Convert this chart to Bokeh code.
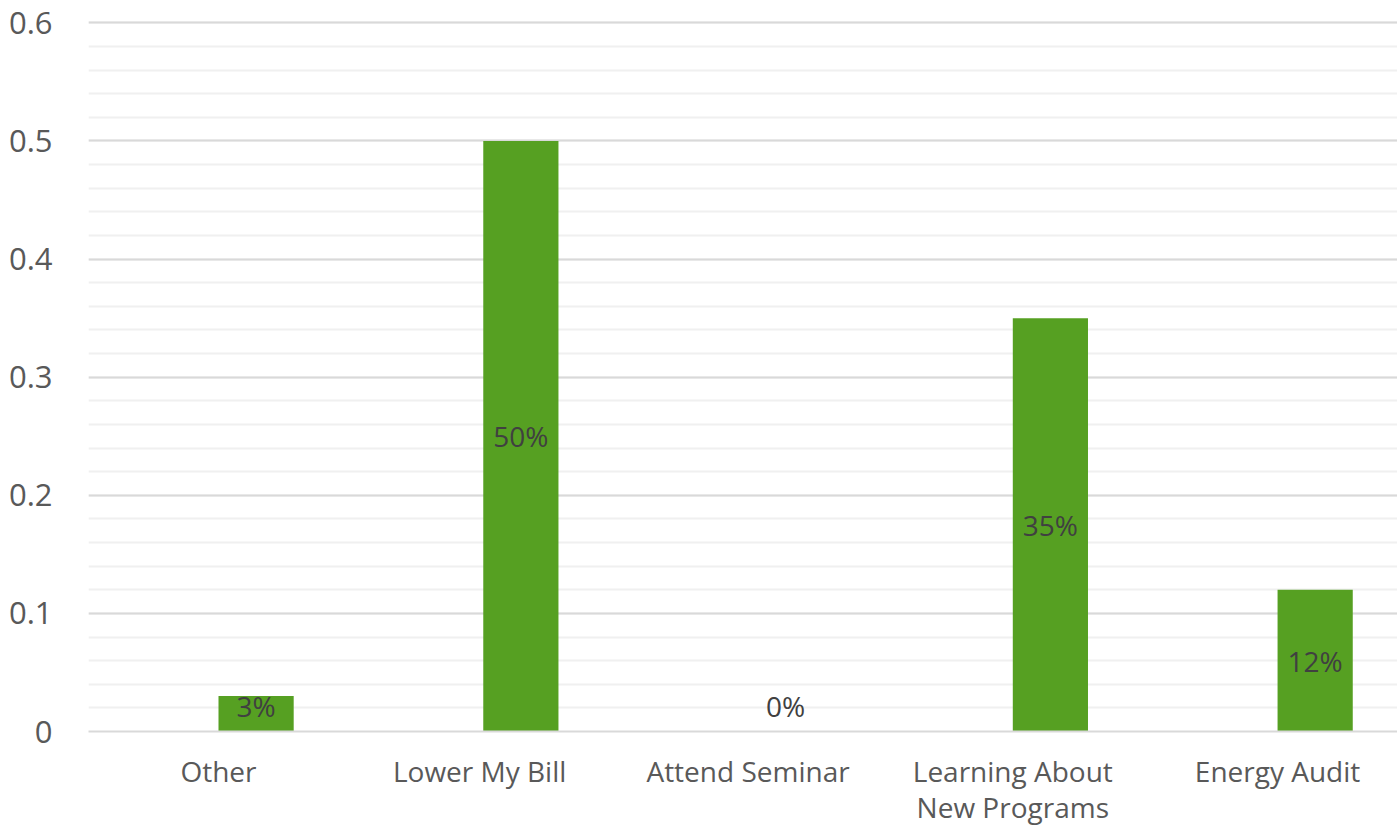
from bokeh.plotting import figure
from bokeh.models import ColumnDataSource, FixedTicker, Range1d
from bokeh.core.properties import value
from bokeh.embed import file_html
from bokeh.resources import INLINE

categories = ["Other", "Lower My  Bill", "Attend Seminar", "Learning About\nNew Programs", "Energy Audit"]
values = [0.03, 0.50, 0.0, 0.35, 0.12]
labels = ["3%", "50%", "0%", "35%", "12%"]
y_ticks = [0, 0.1, 0.2, 0.3, 0.4, 0.5, 0.6]
y_tick_labels = ["0", "0.1", "0.2", "0.3", "0.4", "0.5", "0.6"]

FONT = "Open Sans"
bar_w = 0.284
xs = list(range(len(categories)))
src = ColumnDataSource(dict(
    left=xs,
    right=[x + bar_w for x in xs],
    top=values,
    mid=[x + bar_w / 2 for x in xs],
    ly=[max(v / 2, 0.022) for v in values],
    lab=labels,
))

p = figure(frame_width=1309, frame_height=711, output_backend="svg", toolbar_location=None,
           x_range=Range1d(-0.491, 4.453), y_range=Range1d(0, 0.602),
           min_border_left=88, min_border_right=0, min_border_top=20, min_border_bottom=0)
p.outline_line_color = None
p.background_fill_color = "white"

p.quad(left="left", right="right", bottom=0, top="top", source=src,
       fill_color="#56A022", line_color=None)
p.text(x="mid", y="ly", text="lab", source=src, text_align="center", text_baseline="middle",
       text_font=value(FONT), text_font_size="28px", text_color="#404040")

p.xaxis.ticker = FixedTicker(ticks=xs)
p.xaxis.major_label_overrides = {i: c for i, c in enumerate(categories)}
p.xaxis.major_tick_line_color = None
p.xaxis.minor_tick_line_color = None
p.xaxis.axis_line_color = "#D9D9D9"
p.xaxis.axis_line_width = 2
p.xaxis.major_label_text_font = FONT
p.xaxis.major_label_text_font_size = "28px"
p.xaxis.major_label_text_color = "#595959"
p.xaxis.major_label_text_line_height = 0.95
p.xaxis.major_label_standoff = 14

p.yaxis.ticker = FixedTicker(ticks=y_ticks, minor_ticks=[i * 0.02 for i in range(31)])
p.yaxis.major_label_overrides = {t: l for t, l in zip(y_ticks, y_tick_labels)}
p.yaxis.axis_line_color = None
p.yaxis.major_tick_line_color = None
p.yaxis.minor_tick_line_color = None
p.yaxis.major_label_text_font = FONT
p.yaxis.major_label_text_font_size = "31px"
p.yaxis.major_label_text_color = "#595959"
p.yaxis.major_label_standoff = 30

p.xgrid.grid_line_color = None
p.ygrid.grid_line_color = "#D9D9D9"
p.ygrid.grid_line_width = 2
p.ygrid.minor_grid_line_color = "#F0F0F0"
p.ygrid.minor_grid_line_width = 2
p.ygrid.level = "underlay"

open("out.html", "w").write(file_html(p, INLINE))
